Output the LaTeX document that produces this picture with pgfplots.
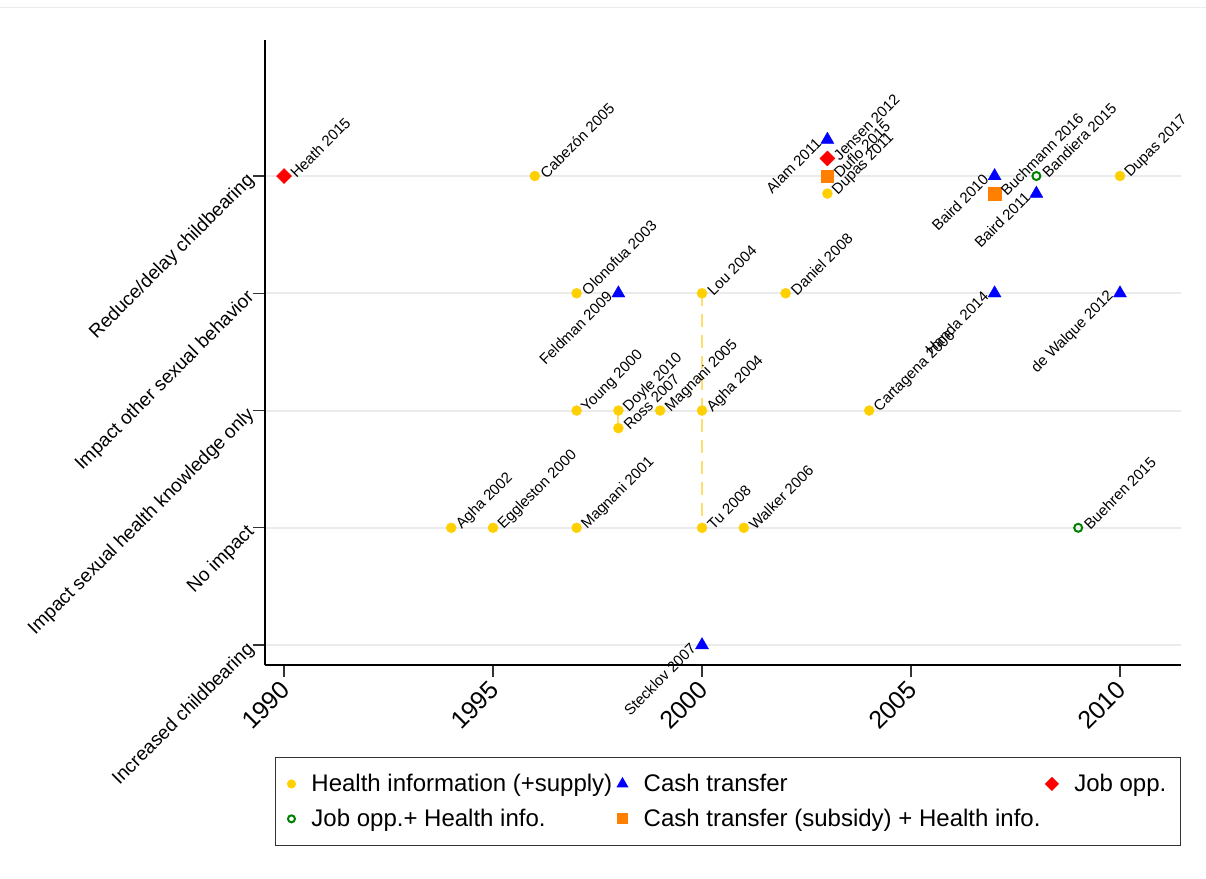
\documentclass[border=0pt]{standalone}
\usepackage{pgfplots}
\pgfplotsset{compat=1.18}
\usepackage{pgfplotstable}
\usepackage{fontspec}
\setmainfont{Liberation Sans}
\definecolor{hiy}{RGB}{255,208,0}
\definecolor{ctb}{RGB}{0,0,255}
\definecolor{jor}{RGB}{255,0,0}
\definecolor{jhg}{RGB}{0,128,0}
\definecolor{cso}{RGB}{255,127,0}
\definecolor{dashy}{RGB}{255,222,110}

\pgfplotstableread[col sep=comma,row sep=\\]{x,y,label\\%
1996,4,Cabezón 2005\\%
2003,3.85,Dupas 2011\\%
2010,4,Dupas 2017\\%
1997,3,Olonofua 2003\\%
2000,3,Lou 2004\\%
2002,3,Daniel 2008\\%
1997,2,Young 2000\\%
1998,2,Doyle 2010\\%
1998,1.85,Ross 2007\\%
1999,2,Magnani 2005\\%
2000,2,Agha 2004\\%
2004,2,Cartagena 2006\\%
1994,1,Agha 2002\\%
1995,1,Eggleston 2000\\%
1997,1,Magnani 2001\\%
2000,1,Tu 2008\\%
2001,1,Walker 2006\\%
}\hidata

\pgfplotstableread[col sep=comma,row sep=\\]{x,y,label\\%
2003,4.31,Alam 2011\\%
2007,4,Baird 2010\\%
2008,3.85,Baird 2011\\%
1998,3,Feldman 2009\\%
2007,3,Handa 2014\\%
2010,3,de Walque 2012\\%
2000,0,Stecklov 2007\\%
}\ctdata

\pgfplotstableread[col sep=comma,row sep=\\]{x,y,label\\%
1990,4,Heath 2015\\%
2003,4.15,Jensen 2012\\%
}\jobdata

\pgfplotstableread[col sep=comma,row sep=\\]{x,y,label\\%
2008,4,Bandiera 2015\\%
2009,1,Buehren 2015\\%
}\jhdata

\pgfplotstableread[col sep=comma,row sep=\\]{x,y,label\\%
2003,4,Duflo 2015\\%
2007,3.85,Buchmann 2016\\%
}\csdata

\begin{document}
\begin{tikzpicture}
\path[use as bounding box] (0,0) rectangle (1206pt,878pt);
\draw[black!8, line width=1pt] (0,870pt) -- (1206pt,870pt);
\begin{axis}[
  at={(265pt,213pt)}, anchor=south west,
  scale only axis, width=916pt, height=625pt,
  xmin=1989.545, xmax=2011.46, ymin=-0.17, ymax=5.16,
  axis x line*=bottom, axis y line*=left,
  axis line style={black, line width=1.3pt},
  xtick={1990,1995,2000,2005,2010},
  xticklabels={1990,1995,2000,2005,2010},
  ytick={0,1,2,3,4},
  yticklabels={Increased childbearing, No impact, Impact sexual health knowledge only, Impact other sexual behavior, Reduce/delay childbearing},
  tick align=outside, major tick length=12pt,
  tick style={black!80, line width=1.3pt},
  xticklabel style={xshift=3pt, yshift=-7pt, rotate=45, anchor=east, font=\fontsize{25}{30}\selectfont, inner sep=2pt},
  yticklabel style={rotate=45, anchor=east, font=\fontsize{19}{23}\selectfont, inner sep=2pt},
  ymajorgrids, grid style={black!8, line width=2pt},
  clip=false,
  legend columns=3, legend cell align=left,
  legend style={at={(axis description cs:0.0109,-0.1472)}, anchor=north west,
    draw=black!80, line width=1pt, font=\fontsize{24}{28}\selectfont,
    inner xsep=12pt, inner ysep=15pt,
    /tikz/every odd column/.append style={column sep=14pt},
    /tikz/every even column/.append style={column sep=3pt}, row sep=12pt},
  point meta=explicit symbolic,
  nodes near coords style={font=\fontsize{15}{18}\selectfont, text=black, inner sep=1pt},
]
\addplot[dashy, line width=2pt, dash pattern=on 13pt off 8pt, forget plot] coordinates {(2000,3) (2000,1)};
\addplot[dashy, line width=2pt, forget plot] coordinates {(1998,2) (1998,1.85)};

\addplot[only marks, mark=*, mark size=5pt, color=hiy, fill=hiy,
  legend image post style={mark size=4pt},
  nodes near coords, nodes near coords align={anchor=west},
  every node near coord/.append style={xshift=7pt, rotate=45}]
  table[x=x, y=y, meta=label]{\hidata};
\addlegendentry{Health information (+supply)}

\addplot[only marks, mark=triangle*, mark size=7.5pt, color=ctb, fill=ctb,
  legend image post style={mark size=6pt},
  nodes near coords, nodes near coords align={anchor=east},
  every node near coord/.append style={xshift=-8pt, rotate=45}]
  table[x=x, y=y, meta=label]{\ctdata};
\addlegendentry{Cash transfer}

\addplot[only marks, mark=square*, mark size=5.3pt, mark options={rotate=45}, color=jor, fill=jor,
  legend image post style={mark size=4.5pt},
  nodes near coords, nodes near coords align={anchor=west},
  every node near coord/.append style={xshift=8pt, rotate=45}]
  table[x=x, y=y, meta=label]{\jobdata};
\addlegendentry{Job opp.}

\addplot[only marks, mark=o, mark size=4pt, line width=2pt, color=jhg,
  legend image post style={mark size=3.5pt},
  nodes near coords, nodes near coords align={anchor=west},
  every node near coord/.append style={xshift=7pt, rotate=45}]
  table[x=x, y=y, meta=label]{\jhdata};
\addlegendentry{Job opp.+ Health info.}

\addplot[only marks, mark=square*, mark size=6.3pt, color=cso, fill=cso,
  legend image post style={mark size=5pt},
  nodes near coords, nodes near coords align={anchor=west},
  every node near coord/.append style={xshift=8pt, rotate=45}]
  table[x=x, y=y, meta=label]{\csdata};
\addlegendentry{Cash transfer (subsidy) + Health info.}
\end{axis}
\end{tikzpicture}
\end{document}
